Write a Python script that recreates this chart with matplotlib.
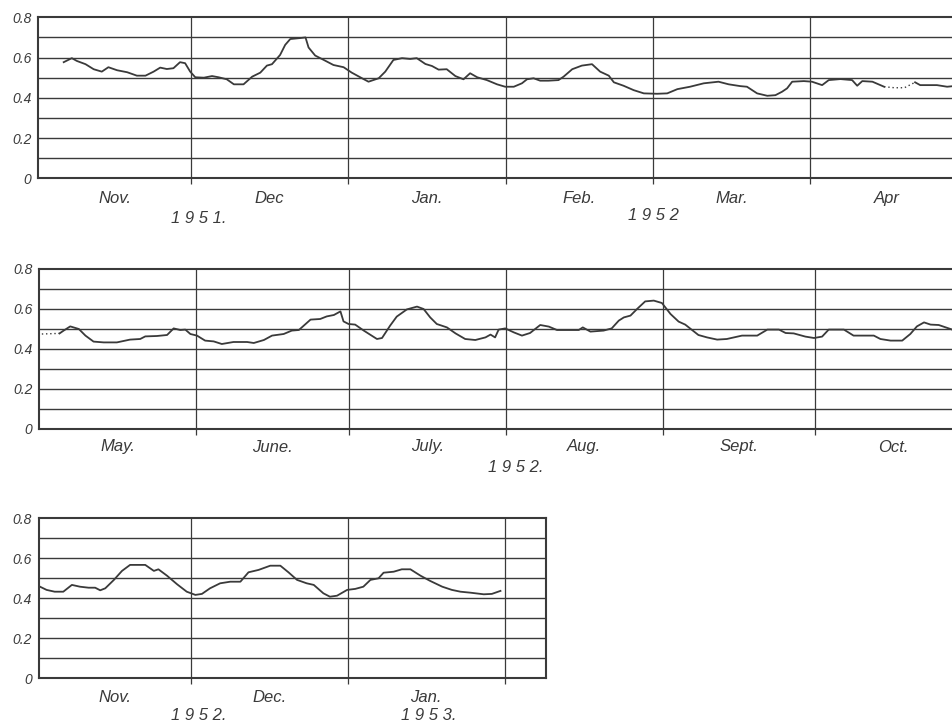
import numpy as np
import matplotlib.pyplot as plt

# values (x = days since the first of the first month)
p1_months = ['Nov.', 'Dec', 'Jan.', 'Feb.', 'Mar.', 'Apr']
p1_lengths = [30, 31, 31, 29, 31, 30]
p1_days = [5.0, 6.6, 7.6, 9.3, 10.9, 12.5, 13.8, 15.5, 17.5, 19.4,
           21.1, 22.7, 24.0, 25.3, 26.6, 27.9, 28.9, 29.9, 30.9, 32.6,
           34.2, 35.5, 37.1, 38.5, 40.4, 42.1, 43.7, 45.0, 46.0, 47.6,
           48.6, 49.6, 51.6, 52.6, 53.2, 54.5, 56.2, 58.1, 60.1, 61.7,
           64.1, 65.0, 67.0, 68.3, 69.9, 71.6, 73.2, 74.5, 76.2, 77.5,
           78.8, 80.4, 82.1, 83.7, 85.0, 86.4, 88.3, 90.3, 91.9, 93.6,
           95.2, 96.2, 97.5, 98.8, 100.4, 102.4, 103.4, 105.1, 107.0, 109.0,
           110.6, 112.3, 113.3, 115.2, 117.2, 119.2, 121.8, 123.8, 125.8, 128.3,
           131.0, 133.9, 135.9, 138.2, 139.5, 141.5, 143.5, 145.1, 146.4, 147.4,
           148.4, 150.7, 152.3, 154.3, 155.6, 157.9, 160.2, 161.2, 162.2, 164.2,
           166.5, 168.5, 170.5, 172.6, 173.6, 176.9, 178.9, 180.1]
p1_vals = [0.577, 0.597, 0.583, 0.567, 0.542, 0.530, 0.552, 0.537, 0.527, 0.510,
           0.510, 0.530, 0.550, 0.543, 0.547, 0.577, 0.572, 0.530, 0.502, 0.500,
           0.508, 0.502, 0.492, 0.467, 0.467, 0.505, 0.525, 0.560, 0.567, 0.613,
           0.663, 0.692, 0.697, 0.700, 0.650, 0.610, 0.588, 0.563, 0.552, 0.525,
           0.492, 0.480, 0.497, 0.530, 0.588, 0.597, 0.593, 0.597, 0.568, 0.558,
           0.540, 0.542, 0.508, 0.492, 0.522, 0.502, 0.488, 0.467, 0.455, 0.455,
           0.472, 0.492, 0.497, 0.485, 0.485, 0.488, 0.505, 0.542, 0.560, 0.567,
           0.530, 0.510, 0.477, 0.460, 0.438, 0.422, 0.420, 0.422, 0.443, 0.455,
           0.472, 0.480, 0.467, 0.458, 0.455, 0.422, 0.410, 0.413, 0.430, 0.447,
           0.480, 0.483, 0.480, 0.463, 0.488, 0.493, 0.488, 0.460, 0.483, 0.480,
           0.455, 0.450, 0.450, 0.477, 0.463, 0.463, 0.455, 0.458]
p1_gap = (166.5, 172.6)   # dotted stretch

p2_months = ['May.', 'June.', 'July.', 'Aug.', 'Sept.', 'Oct.']
p2_lengths = [31, 30, 31, 31, 30, 31]
p2_days = [0.5, 4.0, 4.8, 6.1, 7.8, 9.1, 10.7, 12.7, 15.3, 17.9,
           19.9, 20.9, 23.2, 25.2, 26.5, 27.8, 28.8, 29.8, 31.1, 32.7,
           34.4, 36.0, 38.3, 41.0, 42.3, 44.3, 45.9, 48.2, 49.8, 51.2,
           53.5, 55.4, 56.7, 58.1, 59.4, 60.0, 61.0, 62.3, 64.0, 66.6,
           67.6, 69.2, 70.5, 72.5, 74.5, 75.8, 77.1, 78.4, 80.4, 82.1,
           84.0, 86.0, 88.0, 89.0, 89.9, 90.6, 91.9, 93.6, 95.2, 96.8,
           98.8, 100.5, 102.1, 104.7, 106.4, 107.2, 108.7, 111.3, 112.9, 114.3,
           115.3, 116.6, 117.9, 119.5, 121.2, 122.8, 124.5, 126.1, 127.4, 130.0,
           131.7, 133.7, 135.6, 138.6, 141.6, 143.6, 145.9, 147.2, 148.8, 151.1,
           152.8, 154.4, 155.7, 158.7, 160.6, 164.6, 165.9, 167.9, 170.2, 171.8,
           173.1, 174.5, 175.8, 177.4, 180.3]
p2_vals = [0.475, 0.478, 0.492, 0.513, 0.500, 0.467, 0.437, 0.433, 0.433, 0.447,
           0.450, 0.463, 0.465, 0.470, 0.503, 0.495, 0.497, 0.475, 0.467, 0.442,
           0.438, 0.425, 0.435, 0.435, 0.430, 0.445, 0.467, 0.475, 0.492, 0.495,
           0.547, 0.550, 0.563, 0.570, 0.588, 0.538, 0.525, 0.522, 0.492, 0.450,
           0.455, 0.517, 0.562, 0.598, 0.612, 0.600, 0.558, 0.525, 0.508, 0.478,
           0.450, 0.445, 0.458, 0.472, 0.458, 0.497, 0.503, 0.483, 0.467, 0.480,
           0.520, 0.512, 0.495, 0.495, 0.495, 0.508, 0.487, 0.492, 0.503, 0.542,
           0.558, 0.567, 0.600, 0.638, 0.642, 0.630, 0.575, 0.537, 0.522, 0.470,
           0.458, 0.447, 0.450, 0.467, 0.467, 0.497, 0.497, 0.480, 0.478, 0.462,
           0.455, 0.462, 0.497, 0.497, 0.467, 0.467, 0.450, 0.442, 0.442, 0.475,
           0.513, 0.533, 0.522, 0.520, 0.495]
p2_gap = (0.0, 4.0)

p3_months = ['Nov.', 'Dec.', 'Jan.']
p3_lengths = [30, 31, 31]
p3_days = [0.2, 1.5, 3.1, 4.8, 6.5, 8.1, 9.8, 11.1, 12.1, 13.1,
           14.8, 16.4, 18.0, 21.0, 22.7, 23.6, 25.3, 27.3, 29.2, 30.9,
           32.2, 33.8, 35.8, 37.8, 39.8, 41.4, 43.4, 45.7, 47.7, 49.3,
           51.0, 52.9, 54.3, 56.2, 57.5, 58.9, 60.9, 62.5, 64.1, 65.5,
           67.1, 68.1, 70.1, 71.7, 73.4, 75.4, 77.3, 79.7, 81.6, 83.3,
           85.3, 87.9, 89.5, 91.2]
p3_vals = [0.458, 0.442, 0.433, 0.433, 0.467, 0.458, 0.453, 0.453, 0.440, 0.450,
           0.492, 0.537, 0.567, 0.567, 0.537, 0.545, 0.513, 0.470, 0.433, 0.417,
           0.422, 0.450, 0.475, 0.483, 0.483, 0.530, 0.542, 0.563, 0.563, 0.530,
           0.492, 0.475, 0.467, 0.425, 0.408, 0.413, 0.442, 0.447, 0.458, 0.492,
           0.500, 0.528, 0.533, 0.545, 0.545, 0.513, 0.487, 0.458, 0.442, 0.433,
           0.428, 0.420, 0.422, 0.437]

INK = '#3a3a3a'
FONT = 'Liberation Sans'

fig = plt.figure(figsize=(9.53, 7.23), dpi=100)
fig.patch.set_facecolor('white')


def panel(rect, days, vals, months, lengths, xmax, gap=None, right_spine=False,
          month_dy=20, years=()):
    ax = fig.add_axes(rect)
    ax.set_xlim(0, xmax)
    ax.set_ylim(0, 0.8)
    bounds = np.cumsum(lengths)
    starts = bounds - np.array(lengths)

    for y in np.arange(0.1, 0.75, 0.1):
        ax.axhline(y, color=INK, lw=1.0, zorder=1)
    for b in bounds:
        if b < xmax - 1:
            ax.axvline(b, color=INK, lw=0.9, zorder=1)

    for side in ['left', 'bottom', 'top']:
        ax.spines[side].set_color(INK)
        ax.spines[side].set_linewidth(1.5)
    ax.spines['right'].set_visible(right_spine)
    ax.spines['right'].set_color(INK)
    ax.spines['right'].set_linewidth(1.5)

    ax.set_yticks([0, 0.2, 0.4, 0.6, 0.8])
    ax.set_yticklabels(['0', '0.2', '0.4', '0.6', '0.8'], fontfamily=FONT,
                       fontstyle='italic', fontsize=10, color=INK)
    ax.tick_params(axis='y', length=0, pad=5)
    ax.set_xticks([b for b in bounds if b < xmax - 1])
    ax.set_xticklabels([])
    ax.tick_params(axis='x', length=4, width=0.9, color=INK, direction='out')

    d = np.array(days)
    v = np.array(vals)
    if gap is None:
        ax.plot(d, v, color=INK, lw=1.3, zorder=3)
    else:
        inside = (d >= gap[0]) & (d <= gap[1])
        before = d <= gap[0]
        after = d >= gap[1]
        ax.plot(d[before], v[before], color=INK, lw=1.3, zorder=3)
        ax.plot(d[after], v[after], color=INK, lw=1.3, zorder=3)
        ax.plot(d[inside], v[inside], color=INK, lw=1.0, ls=(0, (1, 2)), zorder=3)

    for name, s, n in zip(months, starts, lengths):
        ax.annotate(name, xy=(s + n / 2, 0), xycoords=('data', 'axes fraction'),
                    xytext=(0, -month_dy), textcoords='offset pixels',
                    ha='center', va='center', fontfamily=FONT, fontstyle='italic',
                    fontsize=12, color=INK)
    for text, x, dy in years:
        ax.annotate(text, xy=(x, 0), xycoords=('data', 'axes fraction'),
                    xytext=(0, -dy), textcoords='offset pixels',
                    ha='center', va='center', fontfamily=FONT, fontstyle='italic',
                    fontsize=12, color=INK)
    return ax


W, H = 953.0, 723.0
panel([38.3 / W, 1 - 178.3 / H, 1 - 38.3 / W, 161 / H], p1_days, p1_vals,
      p1_months, p1_lengths, (W - 38.3) / 5.08, gap=p1_gap, month_dy=20,
      years=[('1 9 5 1.', 31.5, 40), ('1 9 5 2', 121, 37)])
panel([39.3 / W, 1 - 429 / H, 1 - 39.3 / W, 160 / H], p2_days, p2_vals,
      p2_months, p2_lengths, (W - 39.3) / 5.07, gap=p2_gap, month_dy=18,
      years=[('1 9 5 2.', 94, 38)])
panel([39 / W, 1 - 678.3 / H, 507 / W, 160 / H], p3_days, p3_vals,
      p3_months, p3_lengths, 100.2, right_spine=True, month_dy=19,
      years=[('1 9 5 2.', 31.5, 37), ('1 9 5 3.', 77, 37)])

fig.savefig('out.png', dpi=100, facecolor='white')
